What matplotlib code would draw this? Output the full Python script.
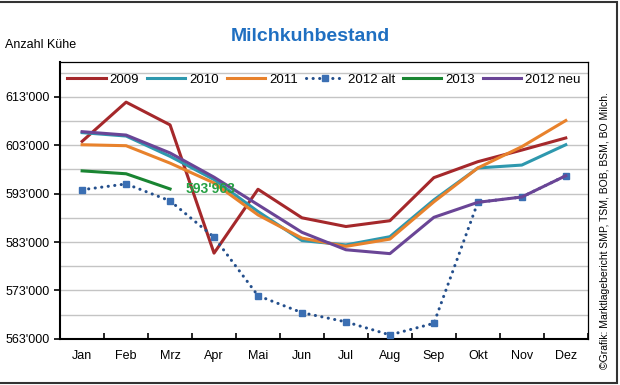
import matplotlib
matplotlib.use('Agg')
import matplotlib.pyplot as plt
from matplotlib.patches import Rectangle
from matplotlib.ticker import FuncFormatter, FixedLocator

plt.rcParams['font.family'] = ['Liberation Sans', 'DejaVu Sans']

months = ['Jan', 'Feb', 'Mrz', 'Apr', 'Mai', 'Jun', 'Jul', 'Aug', 'Sep', 'Okt', 'Nov', 'Dez']

v2009 = [603800, 611900, 607200, 580700, 593900, 588000, 586200, 587400, 596300, 599600, 602000, 604500]
v2010 = [605600, 604900, 600700, 595900, 589300, 583300, 582400, 584100, 591700, 598300, 598900, 603100]
v2011 = [603100, 602900, 599300, 595200, 588600, 583800, 582100, 583600, 591300, 598300, 602700, 608100]
v2012alt = [593800, 595000, 591500, 584000, 571900, 568400, 566500, 563800, 566200, 591200, 592300, 596700]
v2013 = [597700, 597100, 593963]
v2012neu = [605800, 605100, 601400, 596400, 590700, 585000, 581400, 580600, 588100, 591200, 592300, 596700]

label_2013 = "593'963"
yticks = [563000, 573000, 583000, 593000, 603000, 613000]
ygrid = [568000, 578000, 588000, 598000, 608000, 618000]

fig = plt.figure(figsize=(6.2, 3.85), dpi=100)
ax = fig.add_axes([0.097, 0.12, 0.851, 0.719])

x = list(range(len(months)))
lw = 2.2
ax.plot(x, v2009, color='#a5282b', lw=lw, label='2009', zorder=3)
ax.plot(x, v2010, color='#2e98ae', lw=lw, label='2010', zorder=3)
ax.plot(x, v2011, color='#e8822c', lw=lw, label='2011', zorder=3)
ax.plot(x, v2012alt, color='#244f8c', lw=2.2, ls=(0, (0.05, 2.1)), dash_capstyle='round',
        marker='s', markersize=4.5, markerfacecolor='#3b6fb3', markeredgecolor='#3b6fb3',
        label='2012 alt', zorder=3)
ax.plot(x[:len(v2013)], v2013, color='#1a8532', lw=lw, label='2013', zorder=3)
ax.plot(x, v2012neu, color='#6a4596', lw=lw, label='2012 neu', zorder=3)

ax.text(2.35, v2013[-1], label_2013, color='#25a043', fontsize=10, fontweight='bold',
        ha='left', va='center', zorder=4)

ax.set_xlim(-0.5, 11.5)
ax.set_ylim(563000, 620200)
ax.yaxis.set_major_locator(FixedLocator(yticks))
ax.yaxis.set_minor_locator(FixedLocator(ygrid))
ax.yaxis.set_major_formatter(FuncFormatter(lambda v, p: "{:,.0f}".format(v).replace(',', "'")))
ax.grid(True, which='both', axis='y', color='#c4c4c4', lw=1.0, zorder=0)
ax.set_axisbelow(True)

ax.set_xticks(x)
ax.set_xticklabels(months)
ax.set_xticks([i - 0.5 for i in range(13)], minor=True)
ax.tick_params(axis='x', which='major', length=0, labelsize=9, pad=8)
ax.tick_params(axis='x', which='minor', direction='in', length=4, width=1.2)
ax.tick_params(axis='y', which='major', direction='out', length=4, width=1.2, labelsize=9)
ax.tick_params(axis='y', which='minor', length=0)

for s in ['top', 'right']:
    ax.spines[s].set_linewidth(0.9)
for s in ['left', 'bottom']:
    ax.spines[s].set_linewidth(1.5)

ax.legend(loc='upper center', ncol=6, frameon=False, fontsize=9.5, handlelength=2.9,
          handletextpad=0.3, columnspacing=0.6, bbox_to_anchor=(0.5, 1.0))

fig.text(0.5, 0.905, 'Milchkuhbestand', ha='center', va='center', color='#1f6fc1',
         fontsize=14, fontweight='bold')
fig.text(0.008, 0.883, 'Anzahl Kühe', ha='left', va='center', fontsize=9)
fig.text(0.976, 0.40, '©Grafik: Marktlagebericht SMP, TSM, BOB, BSM, BO Milch.', rotation=90,
         ha='center', va='center', fontsize=7.5)

fig.patches.append(Rectangle((-0.01, 0.005), 1.005, 0.99, transform=fig.transFigure,
                             fill=False, edgecolor='#333333', lw=1.5))

fig.savefig('out.png', dpi=100)
